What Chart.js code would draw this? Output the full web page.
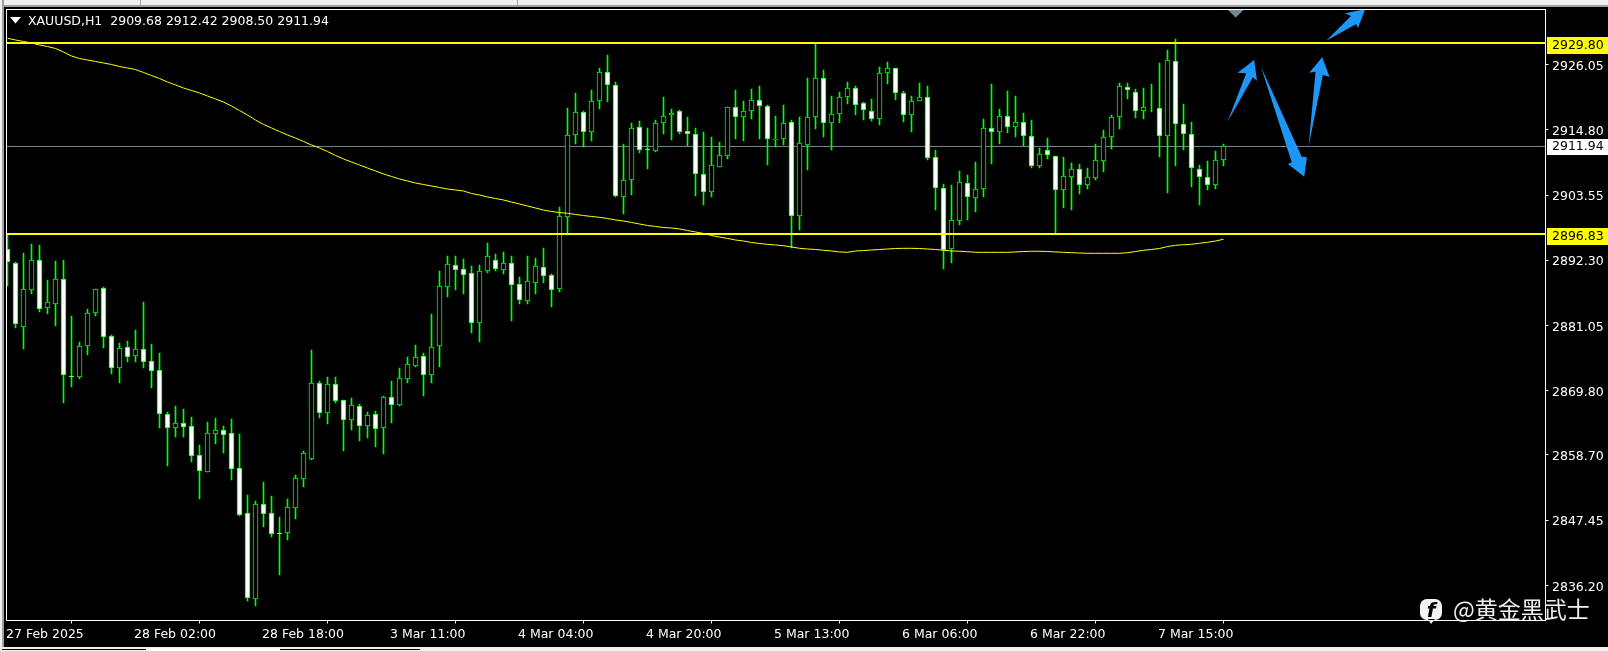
<!DOCTYPE html>
<html>
<head>
<meta charset="utf-8">
<title>XAUUSD,H1</title>
<script src="https://cdn.jsdelivr.net/npm/chart.js@4"></script>
<style>
html, body { margin: 0; padding: 0; background: #000; overflow: hidden; }
#wrap { position: relative; width: 1608px; height: 651px; }
#chart { position: absolute; left: 0; top: 0; }
.ui { position: absolute; }
</style>
</head>
<body>
<div id="wrap">
  <canvas id="chart" width="1608" height="651"></canvas>
  <!-- terminal window edges -->
  <div class="ui" style="left:0;top:0;width:1608px;height:5px;background:#f0f0f0"></div>
  <div class="ui" style="left:0;top:5px;width:1608px;height:2px;background:#a0a0a0"></div>
  <div class="ui" style="left:140px;top:0;width:1px;height:5px;background:#a0a0a0"></div>
  <div class="ui" style="left:517px;top:0;width:1px;height:5px;background:#a0a0a0"></div>
  <div class="ui" style="left:0;top:0;width:2px;height:651px;background:#f0f0f0"></div>
  <div class="ui" style="left:2px;top:0;width:2px;height:651px;background:#a0a0a0"></div>
  <div class="ui" style="left:0;top:647px;width:1608px;height:4px;background:#f0f0f0"></div>
  <div class="ui" style="left:146px;top:648px;width:134px;height:3px;background:#fff"></div>
  <div class="ui" style="left:2px;top:649px;width:144px;height:1px;background:#000"></div>
  <div class="ui" style="left:280px;top:649px;width:140px;height:1px;background:#000"></div>
</div>
<script>
const symbolText = 'XAUUSD,H1  2909.68 2912.42 2908.50 2911.94';
const timeLabels = ['27 Feb 2025', '28 Feb 02:00', '28 Feb 18:00', '3 Mar 11:00', '4 Mar 04:00', '4 Mar 20:00', '5 Mar 13:00', '6 Mar 06:00', '6 Mar 22:00', '7 Mar 15:00'];
const priceTicks = [2926.05, 2914.80, 2903.55, 2892.30, 2881.05, 2869.80, 2858.70, 2847.45, 2836.20];
const levels = [2929.80, 2896.83];
const lastPrice = 2911.94;

const opens = [
2894.19,2891.77,2880.83,2887.11,2892.29,2884.01,2884.80,2889.01,2872.37,2872.20,
2877.55,2883.15,2887.46,2879.18,2873.76,2877.28,2875.83,2876.93,2874.86,2873.31,
2865.71,2863.30,2864.16,2863.64,2858.64,2855.81,2862.36,2862.95,2862.43,2856.39,
2848.63,2833.89,2850.18,2848.63,2845.28,2845.28,2849.59,2854.60,2858.05,2871.06,
2865.88,2870.89,2868.13,2864.78,2867.09,2863.74,2865.71,2863.40,2868.65,2867.37,
2871.86,2874.10,2875.72,2872.55,2877.45,2887.74,2891.43,2890.74,2890.05,2881.52,
2890.50,2892.29,2890.67,2891.77,2888.15,2885.32,2888.43,2891.08,2889.70,2887.39,
2899.71,2913.97,2917.84,2914.49,2919.74,2924.74,2922.50,2903.27,2906.10,2915.25,
2911.45,2911.21,2915.94,2917.32,2918.01,2914.56,2914.04,2907.14,2904.13,2908.45,
2910.35,2918.70,2916.97,2918.01,2919.91,2918.87,2913.10,2913.28,2916.11,2899.89,
2912.25,2916.97,2923.71,2915.94,2917.49,2920.43,2921.98,2919.39,2918.01,2916.63,
2924.57,2925.43,2921.12,2917.32,2919.74,2920.43,2910.07,2904.72,2894.19,2899.13,
2905.58,2903.00,2904.55,2915.07,2914.49,2917.15,2915.25,2916.11,2913.70,2908.62,
2911.28,2910.24,2904.48,2906.72,2908.00,2905.24,2906.55,2909.48,2913.52,2916.97,
2922.26,2921.39,2918.01,2918.63,2918.53,2913.70,2926.64,2915.77,2914.04,2908.00,
2906.62,2905.24,2909.68];
const highs = [
2896.66,2892.00,2893.55,2895.11,2894.93,2888.89,2892.17,2892.34,2882.68,2878.19,
2883.89,2887.34,2887.68,2879.35,2878.01,2878.36,2880.26,2885.09,2877.85,2876.29,
2866.06,2867.15,2866.63,2865.19,2860.41,2864.38,2865.07,2863.69,2864.90,2862.31,
2851.78,2850.70,2853.98,2851.61,2847.99,2851.09,2855.24,2859.33,2876.81,2871.46,
2872.15,2872.15,2868.13,2868.47,2867.44,2866.06,2866.23,2868.82,2871.46,2873.70,
2875.55,2877.67,2876.29,2882.97,2890.45,2893.03,2893.03,2892.46,2891.31,2891.48,
2895.28,2893.33,2893.73,2893.03,2889.36,2893.03,2892.69,2894.42,2889.93,2901.49,
2918.53,2921.12,2918.01,2921.63,2925.48,2927.73,2923.02,2912.31,2915.94,2916.28,
2915.07,2916.51,2920.48,2918.41,2918.18,2916.97,2915.07,2914.38,2913.52,2912.66,
2918.70,2921.63,2919.79,2921.79,2922.38,2919.10,2917.20,2919.05,2916.46,2916.97,
2923.76,2929.63,2925.09,2920.65,2921.34,2923.07,2922.38,2919.61,2920.08,2925.60,
2926.52,2925.43,2921.51,2920.65,2922.89,2922.38,2911.33,2905.46,2905.34,2907.71,
2907.02,2909.26,2916.68,2922.72,2918.41,2921.51,2920.65,2917.66,2916.51,2911.73,
2913.40,2910.24,2910.12,2909.09,2908.91,2908.22,2912.37,2914.78,2917.37,2922.84,
2922.84,2921.79,2922.03,2922.72,2926.35,2928.59,2930.49,2919.27,2916.16,2908.74,
2909.38,2911.16,2912.42];
const lows = [
2887.91,2880.66,2877.03,2886.53,2883.42,2883.07,2880.99,2867.71,2870.47,2871.86,
2876.00,2882.73,2877.21,2872.72,2871.17,2874.79,2874.79,2873.76,2870.30,2863.40,
2856.84,2861.85,2861.85,2857.53,2851.14,2855.81,2860.64,2859.08,2854.42,2848.21,
2833.54,2832.68,2846.31,2844.59,2838.03,2844.07,2847.69,2853.22,2857.88,2865.13,
2864.09,2867.71,2859.43,2863.05,2861.16,2861.67,2860.12,2858.91,2864.26,2867.20,
2871.17,2873.93,2868.92,2871.17,2873.93,2886.01,2887.22,2886.53,2879.74,2878.19,
2890.10,2890.50,2889.98,2881.87,2884.80,2884.80,2886.53,2888.43,2884.28,2886.87,
2896.61,2912.42,2911.80,2912.94,2918.46,2919.67,2903.27,2900.34,2903.62,2910.86,
2908.10,2911.04,2914.14,2913.11,2914.14,2912.07,2903.44,2901.89,2903.27,2908.45,
2909.83,2913.28,2912.94,2916.73,2913.28,2908.79,2911.85,2912.24,2894.36,2897.52,
2907.93,2914.95,2913.57,2911.38,2916.04,2919.27,2917.42,2916.56,2916.39,2915.70,
2922.77,2919.96,2916.21,2914.44,2919.74,2909.66,2901.03,2890.79,2891.88,2898.44,
2899.30,2900.68,2903.27,2908.97,2912.42,2914.32,2913.63,2912.07,2908.27,2908.27,
2909.83,2896.95,2901.37,2901.03,2903.79,2904.65,2906.20,2907.59,2911.55,2915.01,
2920.13,2916.85,2916.73,2917.94,2910.17,2903.96,2908.62,2911.38,2904.99,2901.89,
2904.48,2904.65,2908.50];
const closes = [
2891.95,2881.35,2887.29,2892.29,2883.94,2885.04,2889.01,2872.44,2872.20,2877.45,
2883.15,2887.29,2879.11,2873.76,2877.10,2875.65,2876.93,2874.79,2873.24,2865.71,
2863.40,2864.16,2863.57,2858.57,2855.98,2862.43,2862.95,2862.19,2856.32,2848.38,
2834.06,2850.18,2848.56,2845.10,2845.10,2849.66,2854.67,2858.98,2871.06,2865.88,
2870.89,2868.06,2864.78,2867.26,2863.74,2865.54,2863.23,2868.65,2867.37,2871.93,
2874.34,2875.55,2872.55,2877.28,2887.81,2891.60,2890.67,2889.81,2881.52,2890.40,
2892.98,2890.84,2891.77,2888.08,2885.39,2888.67,2891.26,2889.63,2887.22,2899.89,
2913.87,2917.84,2914.49,2919.74,2924.74,2922.50,2903.44,2906.10,2915.07,2911.38,
2911.28,2915.94,2917.15,2917.66,2914.38,2914.04,2907.14,2904.13,2908.69,2910.42,
2918.70,2916.97,2918.01,2919.91,2918.87,2913.18,2913.18,2915.94,2899.89,2912.49,
2916.97,2923.71,2915.94,2917.49,2920.43,2921.98,2919.05,2918.18,2916.63,2924.57,
2925.43,2921.12,2917.32,2919.74,2920.43,2909.90,2904.72,2894.07,2899.20,2905.76,
2903.17,2904.55,2915.07,2914.38,2917.15,2915.35,2916.11,2913.80,2908.62,2910.59,
2910.42,2904.48,2906.79,2908.00,2905.24,2906.62,2909.55,2913.52,2916.97,2922.32,
2921.63,2918.01,2918.70,2918.53,2913.70,2926.81,2915.77,2914.04,2908.17,2906.62,
2905.24,2909.55,2911.94];
const maValues = [
2930.61,2930.32,2930.06,2929.80,2929.45,2929.19,2928.85,2928.24,2927.55,2927.12,
2926.86,2926.61,2926.35,2926.09,2925.74,2925.48,2925.22,2924.71,2924.19,2923.67,
2923.07,2922.55,2922.03,2921.60,2921.17,2920.65,2920.13,2919.61,2918.92,2918.15,
2917.37,2916.51,2915.73,2915.13,2914.52,2913.92,2913.40,2912.80,2912.19,2911.68,
2911.07,2910.38,2909.78,2909.26,2908.74,2908.22,2907.71,2907.19,2906.76,2906.33,
2905.98,2905.63,2905.37,2905.12,2904.86,2904.60,2904.43,2904.25,2903.82,2903.56,
2903.22,2902.96,2902.70,2902.35,2902.01,2901.66,2901.32,2900.97,2900.71,2900.54,
2900.40,2900.20,2900.02,2899.85,2899.71,2899.51,2899.25,2899.08,2898.82,2898.56,
2898.30,2898.13,2897.95,2897.87,2897.70,2897.44,2897.18,2896.92,2896.57,2896.31,
2896.06,2895.80,2895.62,2895.37,2895.19,2895.05,2894.93,2894.81,2894.59,2894.36,
2894.24,2894.16,2894.02,2893.90,2893.73,2893.67,2893.90,2893.98,2894.07,2894.16,
2894.24,2894.33,2894.36,2894.36,2894.33,2894.24,2894.16,2894.02,2893.90,2893.85,
2893.78,2893.67,2893.67,2893.67,2893.67,2893.67,2893.73,2893.81,2893.85,2893.85,
2893.81,2893.73,2893.67,2893.60,2893.55,2893.50,2893.50,2893.50,2893.50,2893.50,
2893.60,2893.81,2894.02,2894.16,2894.33,2894.67,2894.88,2894.98,2895.05,2895.23,
2895.40,2895.62,2895.92];
// hand drawn arrows, [bar index, price]
const arrows = [
  [[152.5,2916.22],[154.84,2924.57],[153.75,2924.67],[155.84,2926.86],[156.18,2923.29],[155.67,2923.88]],
  [[156.68,2925.71],[161.78,2910.17],[162.43,2910.07],[162.09,2906.72],[160.05,2908.91],[160.53,2909.21]],
  [[162.63,2911.90],[163.5,2924.84],[162.71,2924.67],[164.34,2927.33],[165.25,2923.98],[164.42,2924.27]],
  [[164.84,2930.20],[167.93,2934.46],[167.21,2934.92],[169.71,2935.61],[168.8,2932.34],[168.59,2933.08]]
];

const barStep = 16;
const xMin = -0.125, xMax = 192.25;
const yMin = 2830.12, yMax = 2935.58;
const font = '"DejaVu Sans"';
const fontSize = 12.5;

const wickData = highs.map((h, i) => ({x: i, y: [lows[i], h]}));
const bodyData = opens.map((o, i) => ({x: i, y: [Math.min(o, closes[i]), Math.max(o, closes[i])]}));
const maData = maValues.map((v, i) => ({x: i, y: v}));
const lineAt = v => [{x: xMin, y: v}, {x: xMax, y: v}];

const mtPlugin = {
    id: 'mtPlugin',
    // keep candles on whole pixels like the terminal does
    beforeDatasetsDraw(chart) {
        [1, 2].forEach(d => {
            chart.getDatasetMeta(d).data.forEach(el => {
                el.y = Math.round(el.y);
                el.base = Math.round(el.base);
            });
        });
    },
    afterDatasetsDraw(chart) {
        const {ctx, chartArea: a, scales: {x, y}} = chart;
        ctx.save();
        ctx.beginPath();
        ctx.rect(a.left, a.top, a.right - a.left, a.bottom - a.top);
        ctx.clip();
        ctx.fillStyle = '#1e96f5';
        arrows.forEach(pts => {
            ctx.beginPath();
            pts.forEach((p, i) => {
                const px = x.getPixelForValue(p[0]), py = y.getPixelForValue(p[1]);
                if (i === 0) ctx.moveTo(px, py); else ctx.lineTo(px, py);
            });
            ctx.closePath();
            ctx.fill();
        });
        ctx.restore();
    },
    afterDraw(chart) {
        const {ctx, chartArea: a, scales: {y}} = chart;
        ctx.save();
        ctx.strokeStyle = '#fff';
        ctx.lineWidth = 1;
        ctx.strokeRect(a.left, a.top, a.right - a.left, a.bottom - a.top);

        // chart shift handle
        ctx.fillStyle = '#778899';
        ctx.beginPath();
        ctx.moveTo(1228, 10);
        ctx.lineTo(1243.5, 10);
        ctx.lineTo(1235.7, 17.5);
        ctx.closePath();
        ctx.fill();

        // symbol header
        ctx.fillStyle = '#fff';
        ctx.beginPath();
        ctx.moveTo(10, 17);
        ctx.lineTo(21, 17);
        ctx.lineTo(15.5, 23.5);
        ctx.closePath();
        ctx.fill();
        ctx.font = fontSize + 'px ' + font;
        ctx.textBaseline = 'alphabetic';
        ctx.textAlign = 'left';
        ctx.fillText(symbolText, 28, 25);

        // price boxes
        const box = (v, bg, up, h, off) => {
            const py = Math.round(y.getPixelForValue(v));
            ctx.fillStyle = bg;
            ctx.fillRect(1547, py - up, 61, h);
            ctx.fillStyle = '#000';
            ctx.textBaseline = 'middle';
            ctx.fillText(v.toFixed(2), 1552, py + off);
        };
        levels.forEach(v => box(v, '#ffff00', 6, 17, 3));
        box(lastPrice, '#ffffff', 7, 16, 1);

        // watermark
        ctx.fillStyle = '#f4f4f4';
        ctx.beginPath();
        ctx.roundRect(1420, 599, 22, 21, 7);
        ctx.moveTo(1428, 619);
        ctx.lineTo(1431, 624);
        ctx.lineTo(1435, 619);
        ctx.closePath();
        ctx.fill();
        ctx.fillStyle = '#000';
        ctx.font = 'italic bold 20px "DejaVu Sans"';
        ctx.textBaseline = 'alphabetic';
        ctx.textAlign = 'center';
        ctx.fillText('f', 1431, 617);
        ctx.fillStyle = '#eeeeee';
        ctx.textAlign = 'left';
        ctx.font = '23px "Noto Sans CJK SC"';
        ctx.fillText('@黄金黑武士', 1453, 618);
        ctx.restore();
    }
};

new Chart(document.getElementById('chart'), {
    data: {
        datasets: [
            {type: 'line', data: lineAt(lastPrice), borderColor: '#778899', borderWidth: 1, pointRadius: 0, order: 6},
            {type: 'bar', data: wickData, backgroundColor: '#00ff00', borderWidth: 0, barThickness: 1, grouped: false, order: 5},
            {type: 'bar', data: bodyData, barThickness: 5, grouped: false, order: 4, borderColor: '#00ff00', borderWidth: 1, borderSkipped: false,
                backgroundColor: opens.map((o, i) => closes[i] < o ? '#ffffff' : '#000000')},
            {type: 'line', data: maData, borderColor: '#ffff00', borderWidth: 1, pointRadius: 0, tension: 0, order: 3},
            {type: 'line', data: lineAt(levels[0]), borderColor: '#ffff00', borderWidth: 2, pointRadius: 0, order: 2},
            {type: 'line', data: lineAt(levels[1]), borderColor: '#ffff00', borderWidth: 2, pointRadius: 0, order: 1}
        ]
    },
    options: {
        responsive: false,
        animation: false,
        parsing: {xAxisKey: 'x', yAxisKey: 'y'},
        layout: {padding: {left: 6.5, top: 9.5, right: 0, bottom: 0}},
        plugins: {legend: {display: false}, title: {display: false}, tooltip: {enabled: false}},
        scales: {
            x: {
                type: 'linear',
                offset: false,
                min: xMin,
                max: xMax,
                afterFit(s) { s.height = 30.5; s.paddingLeft = 0; s.paddingRight = 0; },
                afterBuildTicks(s) { s.ticks = timeLabels.map((t, i) => ({value: i * barStep})); },
                grid: {drawOnChartArea: false, drawTicks: true, tickLength: 3, color: '#fff'},
                border: {display: false},
                ticks: {
                    color: '#fff', padding: 4, labelOffset: -1.5, maxRotation: 0, autoSkip: false, align: 'start',
                    font: {family: font, size: fontSize},
                    callback: (v) => timeLabels[v / barStep]
                }
            },
            y: {
                position: 'right',
                min: yMin,
                max: yMax,
                afterFit(s) { s.width = 62.5; s.paddingTop = 0; s.paddingBottom = 0; },
                afterBuildTicks(s) { s.ticks = priceTicks.map(v => ({value: v})); },
                grid: {drawOnChartArea: false, drawTicks: true, tickLength: 3, color: '#fff'},
                border: {display: false},
                ticks: {
                    color: '#fff', padding: 3.5, labelOffset: 2, autoSkip: false,
                    font: {family: font, size: fontSize},
                    callback: v => v.toFixed(2)
                }
            }
        }
    },
    plugins: [mtPlugin]
});
</script>
</body>
</html>
